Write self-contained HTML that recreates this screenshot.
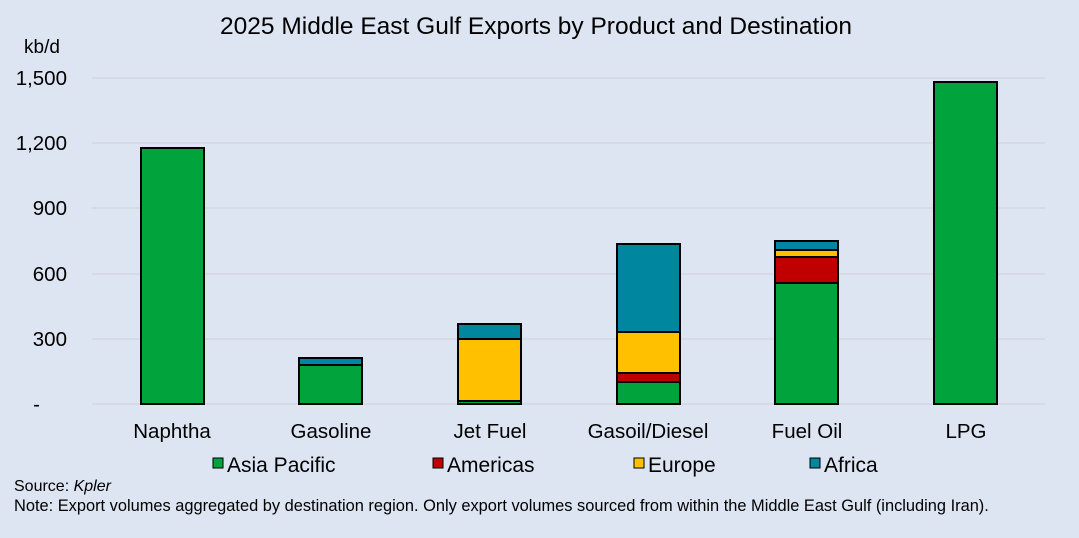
<!DOCTYPE html>
<html><head><style>
body{margin:0;width:1079px;height:533px;background:#dce5f1;overflow:hidden}
text{font-family:"Liberation Sans",Arial,sans-serif;fill:#000}
</style></head><body>
<svg width="1079" height="533" xmlns="http://www.w3.org/2000/svg">
<rect width="1079" height="533" fill="#dce5f1"/>
<text x="536" y="34" font-size="24.5" text-anchor="middle">2025 Middle East Gulf Exports by Product and Destination</text>
<text x="42" y="53" font-size="19" text-anchor="middle">kb/d</text>
<g stroke="#d3d6dd" stroke-width="1.5">
<line x1="92" y1="78" x2="1045" y2="78"/><line x1="92" y1="143" x2="1045" y2="143"/>
<line x1="92" y1="208" x2="1045" y2="208"/><line x1="92" y1="274" x2="1045" y2="274"/>
<line x1="92" y1="339" x2="1045" y2="339"/><line x1="92" y1="404" x2="1045" y2="404"/>
</g>
<g font-size="20.5" text-anchor="end">
<text x="67" y="85">1,500</text><text x="67" y="150">1,200</text><text x="67" y="215">900</text>
<text x="67" y="281">600</text><text x="67" y="346">300</text><text x="40" y="411">-</text>
</g>
<g stroke="#000" stroke-width="2">
<rect x="141" y="148" width="63" height="256" fill="#00a33c"/>
<rect x="299" y="358" width="63" height="7" fill="#00879f"/>
<rect x="299" y="365" width="63" height="39" fill="#00a33c"/>
<rect x="458" y="324" width="63" height="15" fill="#00879f"/>
<rect x="458" y="339" width="63" height="62" fill="#ffc000"/>
<rect x="458" y="401" width="63" height="3" fill="#00a33c"/>
<rect x="617" y="244" width="63" height="88" fill="#00879f"/>
<rect x="617" y="332" width="63" height="41" fill="#ffc000"/>
<rect x="617" y="373" width="63" height="9" fill="#c00000"/>
<rect x="617" y="382" width="63" height="22" fill="#00a33c"/>
<rect x="775" y="241" width="63" height="9" fill="#00879f"/>
<rect x="775" y="250" width="63" height="7" fill="#ffc000"/>
<rect x="775" y="257" width="63" height="26" fill="#c00000"/>
<rect x="775" y="283" width="63" height="121" fill="#00a33c"/>
<rect x="934" y="82" width="63" height="322" fill="#00a33c"/>
</g>
<g font-size="20.5" text-anchor="middle">
<text x="172" y="438">Naphtha</text><text x="331" y="438">Gasoline</text><text x="490" y="438">Jet Fuel</text>
<text x="648" y="438">Gasoil/Diesel</text><text x="807" y="438">Fuel Oil</text><text x="966" y="438">LPG</text>
</g>
<g font-size="21">
<rect x="213" y="458" width="10" height="10" fill="#00a33c" stroke="#000"/><text x="227" y="472">Asia Pacific</text>
<rect x="433" y="458" width="10" height="10" fill="#c00000" stroke="#000"/><text x="447" y="472">Americas</text>
<rect x="634" y="458" width="10" height="10" fill="#ffc000" stroke="#000"/><text x="648" y="472">Europe</text>
<rect x="810" y="458" width="10" height="10" fill="#00879f" stroke="#000"/><text x="824" y="472">Africa</text>
</g>
<text x="14" y="491" font-size="16">Source: <tspan font-style="italic">Kpler</tspan></text>
<text x="14" y="511" font-size="16.4">Note: Export volumes aggregated by destination region. Only export volumes sourced from within the Middle East Gulf (including Iran).</text>
</svg>
</body></html>
